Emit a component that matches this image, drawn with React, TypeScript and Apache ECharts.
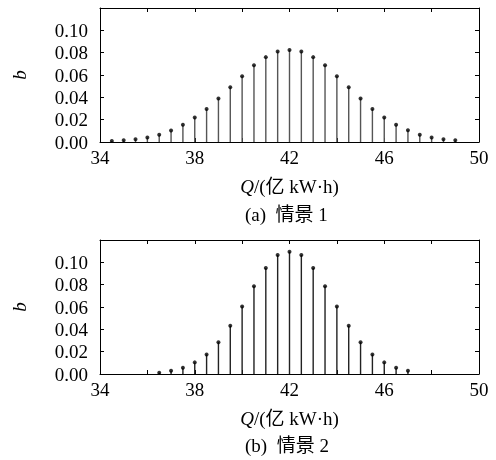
import React, { useEffect, useRef } from 'react';
import * as echarts from 'echarts';

const qValuesA = [34.5, 35, 35.5, 36, 36.5, 37, 37.5, 38, 38.5, 39, 39.5, 40, 40.5, 41, 41.5, 42, 42.5, 43, 43.5, 44, 44.5, 45, 45.5, 46, 46.5, 47, 47.5, 48, 48.5, 49];
const bValuesA = [0.0009, 0.0015, 0.0024, 0.004, 0.0065, 0.0103, 0.0154, 0.022, 0.0295, 0.039, 0.049, 0.0588, 0.0688, 0.076, 0.081, 0.0824, 0.081, 0.076, 0.0688, 0.0588, 0.049, 0.039, 0.0295, 0.022, 0.0154, 0.0106, 0.0065, 0.004, 0.0024, 0.0015];
const qValuesB = [36.5, 37, 37.5, 38, 38.5, 39, 39.5, 40, 40.5, 41, 41.5, 42, 42.5, 43, 43.5, 44, 44.5, 45, 45.5, 46, 46.5, 47];
const bValuesB = [0.0012, 0.003, 0.0056, 0.0104, 0.0175, 0.0285, 0.0433, 0.0605, 0.0786, 0.095, 0.1065, 0.1095, 0.1065, 0.095, 0.0786, 0.0605, 0.0433, 0.0285, 0.0175, 0.0104, 0.0056, 0.003];
const xTickLabels = [34, 38, 42, 46, 50];
const yTickLabels = ['0.00', '0.02', '0.04', '0.06', '0.08', '0.10'];
const xAxisTitle = '{i|Q}/(亿 kW·h)';
const yAxisTitle = 'b';
const captions = ['(a)  情景 1', '(b)  情景 2'];

const FONT = '"Liberation Serif", "Noto Sans CJK SC", serif';
const FS = 19;

export default function App() {
  const ref = useRef<HTMLDivElement>(null);
  useEffect(() => {
    if (!ref.current) return;
    const chart = echarts.init(ref.current, undefined, { renderer: 'svg' });
    const lineStyle = { color: '#000', width: 1 };
    const grids = [
      { left: 100, top: 8, width: 379, height: 134 },
      { left: 100, top: 240, width: 379, height: 134 },
    ];
    const xAxes: any[] = [];
    const yAxes: any[] = [];
    grids.forEach((_, gi) => {
      xAxes.push({
        type: 'value', gridIndex: gi, min: 34, max: 50, interval: 2, position: 'bottom',
        axisLine: { show: true, onZero: false, lineStyle },
        axisTick: { show: true, inside: true, length: 4, lineStyle },
        splitLine: { show: false },
        axisLabel: {
          color: '#000', fontFamily: FONT, fontSize: FS, margin: 6,
          formatter: (v: number) => (xTickLabels.includes(v) ? String(v) : ''),
        },
        name: xAxisTitle, nameLocation: 'middle', nameGap: 35,
        nameTextStyle: {
          color: '#000', fontFamily: FONT, fontSize: FS,
          rich: { i: { fontStyle: 'italic', fontFamily: FONT, fontSize: FS, color: '#000' } },
        },
      });
      xAxes.push({
        type: 'value', gridIndex: gi, min: 34, max: 50, interval: 2, position: 'top',
        axisLine: { show: true, onZero: false, lineStyle },
        axisTick: { show: true, inside: true, length: 4, lineStyle },
        splitLine: { show: false }, axisLabel: { show: false },
      });
      yAxes.push({
        type: 'value', gridIndex: gi, min: 0, max: 0.12, interval: 0.02, position: 'left',
        axisLine: { show: true, onZero: false, lineStyle },
        axisTick: { show: true, inside: true, length: 4, lineStyle },
        splitLine: { show: false },
        axisLabel: {
          color: '#000', fontFamily: FONT, fontSize: FS, margin: 12,
          formatter: (v: number) => {
            const s = v.toFixed(2);
            return yTickLabels.includes(s) ? s : '';
          },
        },
        name: yAxisTitle, nameLocation: 'middle', nameGap: 71, nameRotate: 90,
        nameTextStyle: { color: '#000', fontFamily: FONT, fontSize: FS, fontStyle: 'italic' },
      });
      yAxes.push({
        type: 'value', gridIndex: gi, min: 0, max: 0.12, interval: 0.02, position: 'right',
        axisLine: { show: true, onZero: false, lineStyle },
        axisTick: { show: true, inside: true, length: 4, lineStyle },
        splitLine: { show: false }, axisLabel: { show: false },
      });
    });
    const dataA = qValuesA.map((q, i) => [q, bValuesA[i]]);
    const dataB = qValuesB.map((q, i) => [q, bValuesB[i]]);
    chart.setOption({
      animation: false,
      grid: grids,
      xAxis: xAxes,
      yAxis: yAxes,
      series: [
        { type: 'bar', xAxisIndex: 0, yAxisIndex: 0, data: dataA, barWidth: 1.4, itemStyle: { color: '#555' } },
        { type: 'scatter', xAxisIndex: 0, yAxisIndex: 0, data: dataA, symbolSize: 4, itemStyle: { color: '#000' } },
        { type: 'bar', xAxisIndex: 2, yAxisIndex: 2, data: dataB, barWidth: 1.4, itemStyle: { color: '#222' } },
        { type: 'scatter', xAxisIndex: 2, yAxisIndex: 2, data: dataB, symbolSize: 4, itemStyle: { color: '#000' } },
      ],
      graphic: [
        { type: 'text', left: 245, top: 205, style: { text: captions[0], fill: '#000', font: `${FS}px ${FONT}` } },
        { type: 'text', left: 245, top: 436, style: { text: captions[1], fill: '#000', font: `${FS}px ${FONT}` } },
      ],
    });
    return () => chart.dispose();
  }, []);
  return <div ref={ref} style={{ position: 'fixed', left: 0, top: 0, width: 496, height: 460 }} />;
}
